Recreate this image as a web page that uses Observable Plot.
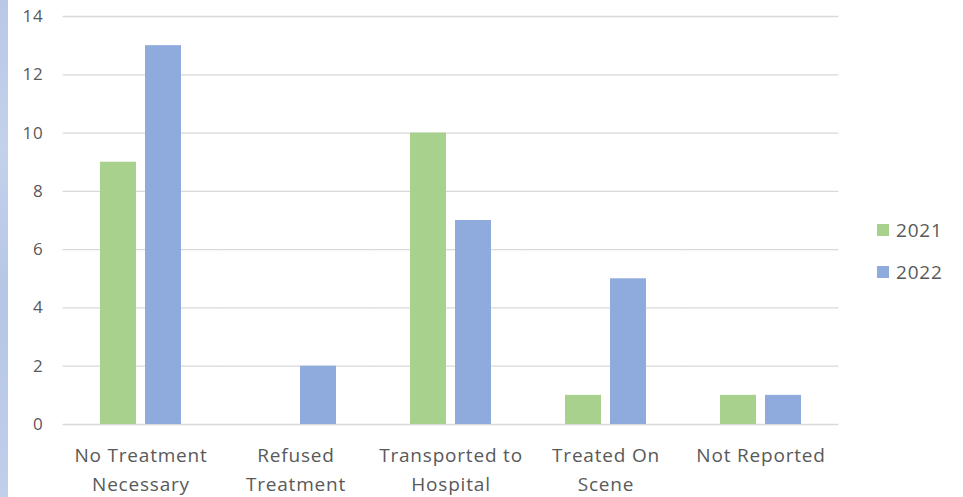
<!DOCTYPE html>
<html>
<head>
<meta charset="utf-8">
<script src="https://cdn.jsdelivr.net/npm/d3@7"></script>
<script src="https://cdn.jsdelivr.net/npm/@observablehq/plot@0.6"></script>
<style>
  html, body { margin: 0; padding: 0; background: #fff; }
  #wrap { position: relative; width: 963px; height: 497px; overflow: hidden; font-family: "Open Sans", sans-serif; }
  #strip { position: absolute; left: 0; top: 0; width: 8px; height: 497px;
    background: linear-gradient(180deg, #b8c8e6 0%, #c3d1eb 30%, #b5c6e6 60%, #c0cfea 100%); }
  #chart { position: absolute; left: 0; top: 0; }
  #legend { position: absolute; left: 877px; top: 209px; color: #595959; font-size: 19px; letter-spacing: 0.8px; }
  .li { display: flex; align-items: center; height: 42px; }
  .sw { width: 12px; height: 12px; margin-right: 7px; }
</style>
</head>
<body>
<div id="wrap"><div id="strip"></div><div id="chart"></div><div id="legend"></div></div>
<script>
const categories = ["No Treatment\nNecessary", "Refused\nTreatment", "Transported to\nHospital", "Treated On\nScene", "Not Reported"];
const years = ["2021", "2022"];
const values2021 = [9, 0, 10, 1, 1];
const values2022 = [13, 2, 7, 5, 1];
const yTicks = [0, 2, 4, 6, 8, 10, 12, 14];
const colors = ["#a9d18e", "#8faadc"];

const rows = [];
categories.forEach((c, i) => {
  rows.push({category: c, year: years[0], value: values2021[i]});
  rows.push({category: c, year: years[1], value: values2022[i]});
});

const chart = Plot.plot({
  width: 963,
  height: 497,
  marginLeft: 63,
  marginRight: 125,
  marginTop: 16,
  marginBottom: 73,
  style: {fontFamily: "'Open Sans', sans-serif", fontSize: "17px", color: "#595959", letterSpacing: "0.8px", background: "transparent"},
  fx: {domain: categories, paddingInner: 0.48, paddingOuter: 0.24, label: null},
  x: {domain: years, paddingInner: 0.2, paddingOuter: 0, axis: null},
  y: {domain: [0, 14], label: null},
  color: {domain: years, range: colors},
  marks: [
    Plot.ruleY(yTicks, {stroke: "#d9d9d9", strokeWidth: 1.3, insetLeft: -37.4, insetRight: -37.4}),
    Plot.axisY({ticks: yTicks, tickSize: 0, tickPadding: 57, label: null, fill: "#595959", fontSize: 17}),
    Plot.axisFx({anchor: "bottom", tickSize: 0, tickPadding: 17, lineHeight: 1.52, label: null, fill: "#595959", fontSize: 19}),
    Plot.barY(rows, {fx: "category", x: "year", y: "value", fill: "year"})
  ]
});
document.getElementById("chart").appendChild(chart);

const legend = document.getElementById("legend");
years.forEach((y, i) => {
  const d = document.createElement("div");
  d.className = "li";
  d.innerHTML = `<div class="sw" style="background:${colors[i]}"></div><span>${y}</span>`;
  legend.appendChild(d);
});
</script>
</body>
</html>
